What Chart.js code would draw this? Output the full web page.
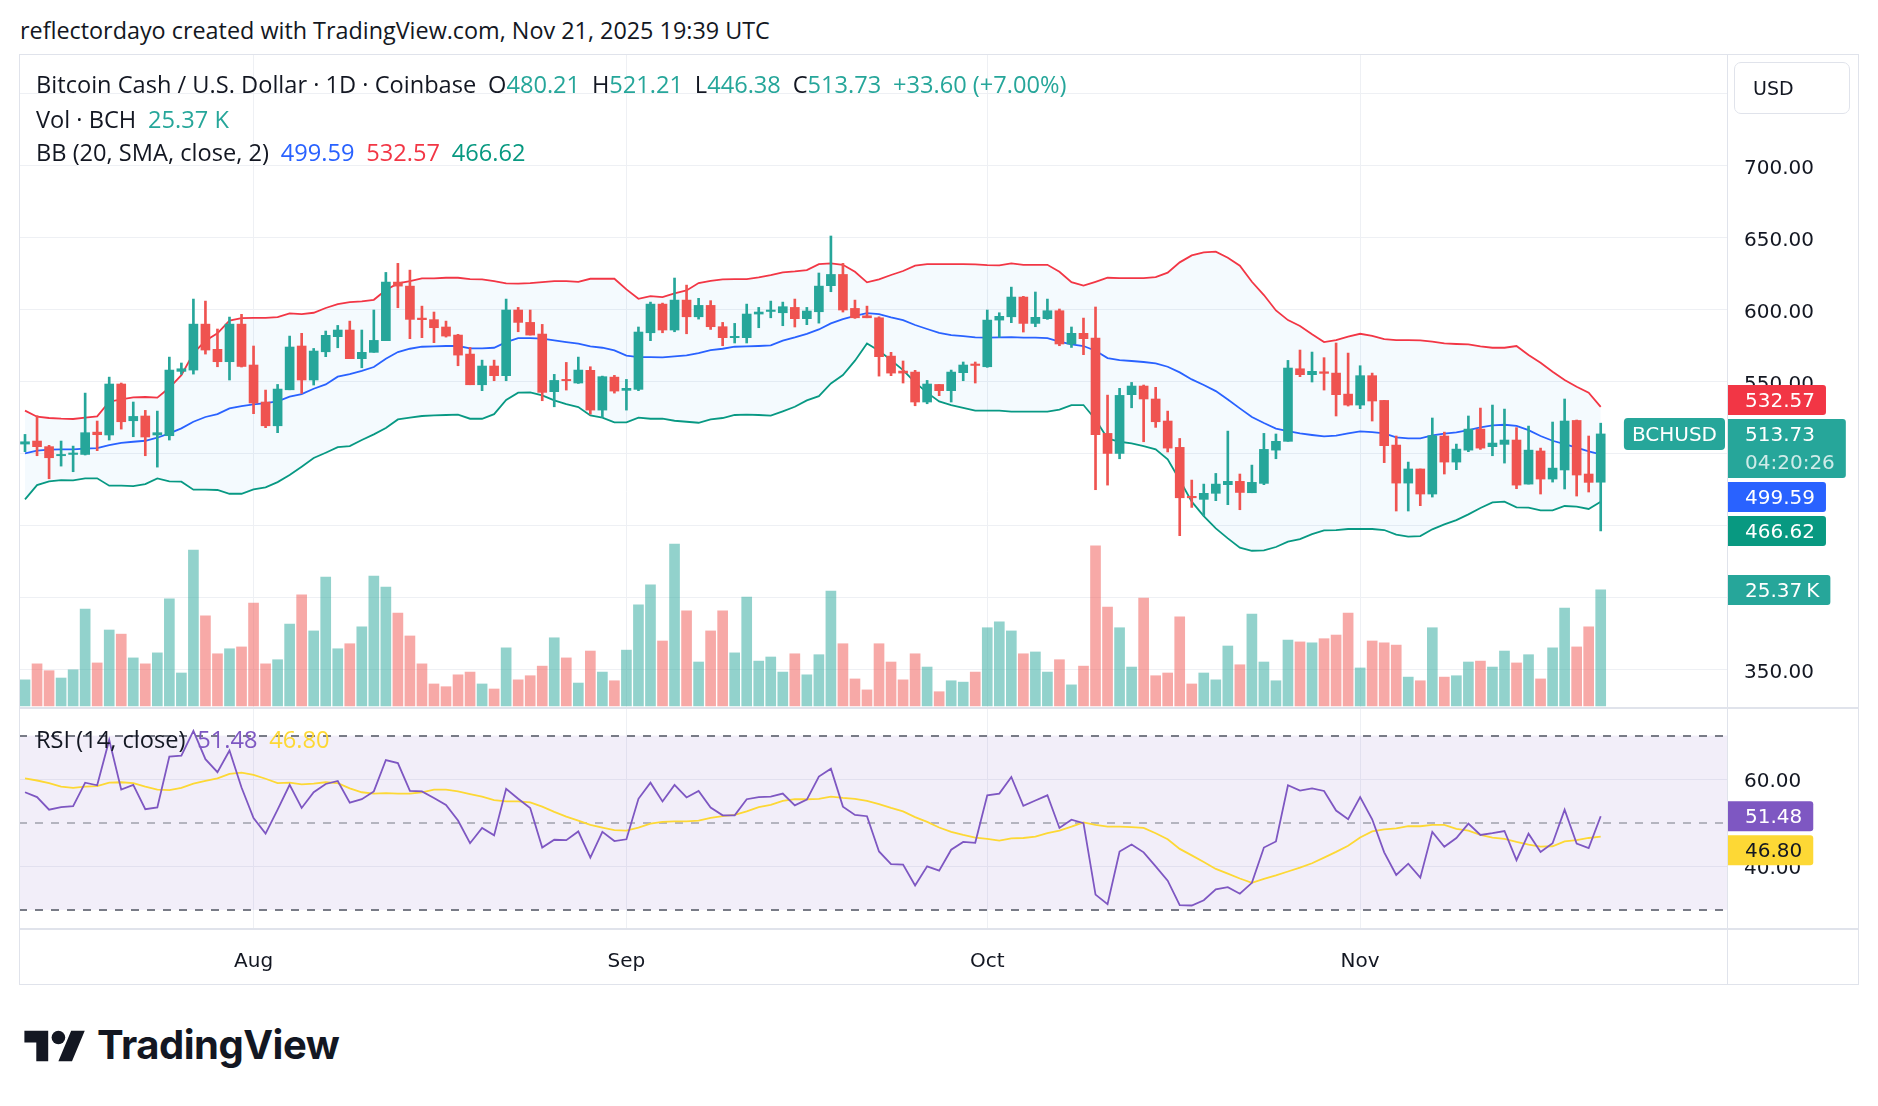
<!DOCTYPE html>
<html>
<head>
<meta charset="utf-8">
<script src="https://cdn.jsdelivr.net/npm/chart.js@4.4.1/dist/chart.umd.min.js"></script>
<style>
  html, body { margin: 0; padding: 0; background: #fff; width: 1878px; height: 1106px; overflow: hidden; }
  body { font-family: "Open Sans", Roboto, sans-serif; color: #131722; }
  .t { position: absolute; white-space: nowrap; line-height: 24px; }
  .it { margin-left: 0.5em; }
  .up { color: #26a69a; }
  #box { position: absolute; left: 19px; top: 54px; width: 1840px; height: 931px; }
  #usd { position: absolute; left: 1734px; top: 62px; width: 114px; height: 50px; border: 1px solid #e0e3eb; border-radius: 7px;
         font: 19px "DejaVu Sans"; line-height: 50px; text-indent: 18px; box-sizing: content-box; }
  #logo { position: absolute; left: 24px; top: 1029px; }
  #logoText { position: absolute; left: 97px; top: 1022px; font-family: Inter, "Open Sans", sans-serif; font-weight: 700; font-size: 38px; line-height: 46px; white-space: nowrap; letter-spacing: -0.5px; }
</style>
</head>
<body>
<div id="title" class="t" style="left:20px;top:17px;font-size:20px;line-height:26px">reflectordayo created with TradingView.com, Nov 21, 2025 19:39 UTC</div>

<div id="box"><canvas id="chart" width="1840" height="931"></canvas></div>

<div id="lg1" class="t" style="left:36px;top:72px;font-size:19px">Bitcoin Cash / U.S. Dollar · 1D · Coinbase<span class="it">O<span class="up">480.21</span></span><span class="it">H<span class="up">521.21</span></span><span class="it">L<span class="up">446.38</span></span><span class="it">C<span class="up">513.73</span></span><span class="it up">+33.60 (+7.00%)</span></div>
<div id="lg2" class="t" style="left:36px;top:107px;font-size:19px">Vol · BCH<span class="it up">25.37 K</span></div>
<div id="lg3" class="t" style="left:36px;top:140px;font-size:19px">BB (20, SMA, close, 2)<span class="it" style="color:#2962ff">499.59</span><span class="it" style="color:#f23645">532.57</span><span class="it" style="color:#089981">466.62</span></div>
<div id="lg4" class="t" style="left:36px;top:727px;font-size:19px">RSI (14, close)<span class="it" style="color:#7e57c2">51.48</span><span class="it" style="color:#fdd835">46.80</span></div>

<div id="usd">USD</div>

<svg id="logo" width="62" height="34" viewBox="0 3 36 20"><path fill="#131722" d="M14 22H7V11H0V4h14v18zM28 22h-8l7.5-18h8L28 22z"/><circle fill="#131722" cx="20" cy="8" r="4"/></svg>
<div id="logoText">TradingView</div>

<script>
// Daily candles, BCH/USD (Coinbase), 2025-07-13 .. 2025-11-21
const startDay = Date.UTC(2025, 6, 13);
const totalSlots = 142; // 132 candles + empty space on the right

const opens = [
  506.7, 508.8, 504.9, 498.6, 499.5, 499.5, 515.0, 513.0, 548.4, 522.9,
  526.2, 513.0, 512.5, 557.2, 558.1, 590.0, 572.5, 563.9, 590.0, 561.6,
  535.9, 519.4, 544.4, 574.8, 551.2, 570.8, 581.3, 585.9, 566.0, 570.4,
  578.5, 619.2, 616.4, 594.2, 593.1, 588.0, 582.4, 569.2, 547.9, 560.9,
  554.2, 599.8, 591.2, 583.1, 543.1, 551.6, 549.1, 557.9, 530.3, 553.2,
  544.0, 544.7, 584.0, 603.9, 585.9, 606.7, 595.1, 603.0, 588.2, 580.6,
  580.6, 597.0, 598.8, 597.9, 601.6, 593.8, 598.6, 616.7, 624.5, 600.9,
  595.8, 594.4, 567.8, 557.4, 556.7, 535.9, 548.1, 543.8, 556.3, 562.3,
  560.4, 592.8, 595.1, 608.8, 590.5, 593.8, 599.3, 576.2, 583.6, 580.3,
  514.1, 500.2, 541.0, 547.0, 538.0, 522.7, 504.4, 470.4, 468.3, 472.5,
  478.5, 480.8, 472.9, 479.4, 502.5, 508.6, 559.0, 554.9, 556.9, 556.0,
  541.4, 533.8, 554.2, 537.0, 506.0, 479.6, 489.4, 472.0, 512.3, 494.2,
  502.5, 517.1, 504.9, 506.5, 509.5, 478.9, 501.9, 482.4, 488.7, 523.1,
  485.9, 480.21
];
const highs = [
  513.4, 526.4, 505.8, 508.8, 505.3, 542.1, 522.7, 553.2, 549.1, 535.9,
  530.1, 529.6, 567.1, 563.0, 607.4, 606.0, 586.6, 594.9, 596.8, 574.8,
  544.2, 548.1, 581.7, 583.6, 573.1, 585.2, 589.1, 592.1, 585.9, 599.8,
  625.9, 632.2, 627.5, 602.5, 598.4, 592.1, 582.9, 573.8, 565.0, 565.0,
  607.4, 601.6, 599.8, 589.8, 555.1, 563.4, 567.1, 560.4, 553.9, 554.4,
  551.6, 588.0, 605.3, 604.6, 622.0, 617.1, 607.9, 606.3, 591.2, 590.5,
  603.9, 601.6, 606.0, 605.3, 607.4, 601.6, 625.5, 651.2, 632.2, 606.7,
  602.5, 595.1, 570.4, 564.4, 557.9, 550.9, 548.1, 558.1, 563.7, 563.7,
  599.8, 597.9, 615.7, 609.3, 612.3, 607.4, 600.5, 588.0, 594.2, 601.9,
  540.7, 545.4, 549.5, 547.7, 546.1, 529.6, 510.6, 481.7, 478.9, 486.3,
  515.7, 485.9, 492.1, 514.1, 513.7, 564.8, 572.0, 570.6, 566.7, 576.9,
  569.9, 561.1, 556.0, 537.0, 512.3, 494.2, 489.4, 524.8, 515.0, 506.7,
  526.2, 531.7, 533.8, 531.0, 518.1, 519.2, 503.9, 522.0, 538.0, 523.4,
  512.3, 521.21
];
const lows = [
  501.4, 498.6, 482.6, 491.4, 487.5, 499.1, 502.1, 509.5, 517.1, 511.8,
  498.6, 490.7, 509.5, 555.1, 555.3, 569.2, 560.4, 551.2, 560.2, 527.8,
  518.1, 514.6, 544.4, 541.9, 547.7, 567.4, 573.6, 566.0, 559.7, 570.4,
  578.5, 601.4, 579.9, 580.6, 577.1, 581.0, 561.1, 547.9, 543.8, 550.7,
  550.7, 584.7, 582.4, 536.8, 532.6, 544.2, 548.8, 527.5, 525.2, 542.1,
  530.3, 543.8, 578.5, 584.0, 584.7, 583.3, 593.5, 586.3, 575.0, 576.9,
  576.9, 587.5, 594.4, 588.9, 588.0, 589.6, 590.7, 612.5, 598.4, 594.0,
  594.4, 553.9, 554.2, 549.1, 533.3, 534.7, 540.3, 535.9, 550.7, 549.1,
  560.0, 580.8, 591.0, 584.5, 588.2, 593.3, 575.0, 573.8, 568.8, 475.0,
  478.2, 496.5, 531.9, 508.3, 518.3, 501.2, 443.1, 462.7, 456.9, 467.4,
  464.6, 461.1, 472.9, 478.5, 496.5, 508.6, 553.5, 549.8, 544.2, 526.2,
  533.1, 531.3, 522.7, 493.8, 460.2, 460.2, 463.9, 469.9, 485.9, 488.9,
  501.4, 503.0, 498.6, 493.5, 475.7, 478.9, 472.0, 480.3, 475.5, 470.6,
  473.4, 446.38
];
const closes = [
  508.3, 504.9, 497.2, 499.5, 500.5, 514.6, 513.2, 548.4, 522.2, 525.9,
  511.6, 514.6, 558.1, 559.0, 590.0, 572.0, 563.9, 590.0, 560.6, 535.2,
  519.4, 544.9, 574.1, 551.2, 571.3, 582.2, 585.9, 566.0, 570.4, 578.7,
  619.2, 616.4, 593.3, 593.1, 587.5, 581.7, 568.5, 547.9, 560.9, 554.2,
  599.8, 591.2, 582.4, 542.6, 550.9, 550.7, 558.1, 530.3, 553.5, 543.5,
  545.4, 584.5, 603.9, 585.9, 606.7, 595.1, 603.0, 588.2, 580.6, 581.5,
  597.0, 598.4, 599.8, 602.1, 593.8, 599.1, 616.4, 624.5, 599.8, 594.4,
  594.4, 567.4, 556.0, 556.0, 535.9, 548.4, 543.8, 556.7, 561.6, 561.3,
  592.8, 595.4, 608.8, 590.5, 594.7, 599.3, 576.2, 583.6, 579.9, 513.2,
  500.2, 540.5, 547.0, 538.0, 522.2, 503.9, 469.4, 469.4, 472.5, 478.9,
  480.8, 473.1, 480.1, 503.0, 508.6, 559.5, 554.9, 557.2, 555.8, 541.0,
  533.8, 554.2, 536.6, 505.6, 479.6, 489.4, 472.0, 512.5, 494.2, 503.2,
  517.1, 503.9, 507.4, 509.5, 478.2, 502.5, 482.4, 490.0, 522.7, 485.2,
  480.1, 513.73
];
// volume in thousands of BCH
const volumes = [
  5.7, 9.2, 7.7, 6.1, 7.9, 21.2, 9.4, 16.6, 15.7, 10.5,
  9.2, 11.6, 23.4, 7.2, 34.1, 19.7, 11.4, 12.5, 12.9, 22.5,
  9.2, 10.1, 17.9, 24.3, 16.4, 28.2, 12.5, 13.6, 17.3, 28.4,
  26.0, 20.3, 15.3, 9.2, 4.8, 4.2, 6.8, 7.4, 4.8, 3.7,
  12.7, 5.7, 6.6, 8.7, 14.9, 10.5, 5.0, 12.0, 7.4, 5.5,
  12.2, 22.1, 26.5, 14.2, 35.4, 20.8, 9.6, 16.4, 20.8, 11.6,
  23.8, 9.8, 10.7, 7.4, 11.4, 6.8, 11.2, 25.1, 13.6, 5.9,
  3.5, 13.6, 9.6, 5.7, 11.4, 8.5, 3.1, 5.5, 5.2, 7.4,
  17.1, 18.4, 16.4, 11.4, 11.8, 7.4, 10.1, 4.6, 8.7, 35.0,
  21.6, 17.1, 8.5, 23.6, 6.6, 7.2, 19.5, 4.8, 7.2, 5.7,
  13.1, 9.0, 20.1, 9.6, 5.5, 14.4, 14.0, 13.8, 14.7, 15.5,
  20.3, 8.3, 14.2, 13.8, 13.3, 6.3, 5.5, 17.1, 6.3, 6.6,
  9.6, 9.8, 8.5, 12.0, 9.4, 11.2, 5.9, 12.7, 21.4, 12.9,
  17.3, 25.37
];
const bbUpper = [
  529.9, 525.7, 524.8, 524.3, 524.1, 525.0, 525.9, 536.1, 537.7, 539.1,
  539.4, 538.9, 545.8, 554.6, 569.7, 578.5, 583.6, 592.4, 594.2, 594.4,
  594.4, 594.9, 597.5, 597.0, 597.9, 601.2, 603.9, 605.3, 605.8, 606.9,
  613.7, 618.3, 619.9, 621.8, 621.8, 622.2, 622.2, 621.3, 621.1, 619.9,
  618.3, 618.1, 618.5, 619.2, 619.9, 619.9, 619.4, 621.5, 621.5, 621.5,
  614.1, 607.6, 609.5, 608.8, 611.3, 613.4, 618.5, 620.1, 621.1, 621.3,
  621.3, 622.5, 624.1, 625.9, 626.6, 627.5, 631.7, 632.2, 631.2, 626.4,
  619.0, 621.1, 624.1, 626.9, 630.6, 631.7, 631.7, 631.7, 631.7, 631.5,
  631.0, 630.8, 632.2, 631.2, 631.2, 631.2, 626.4, 619.2, 616.7, 619.4,
  622.2, 622.0, 622.0, 622.0, 622.7, 625.7, 632.9, 637.7, 639.8, 640.3,
  636.1, 630.6, 619.4, 610.2, 599.5, 592.8, 588.7, 582.9, 577.5, 578.9,
  581.3, 583.3, 581.9, 579.6, 578.9, 578.9, 578.7, 577.8, 576.6, 576.2,
  575.9, 574.5, 573.6, 573.6, 574.8, 568.5, 563.2, 556.9, 551.2, 546.5,
  542.4, 532.57
];
const bbBasis = [
  500.2, 502.1, 502.8, 503.0, 503.0, 503.5, 503.9, 506.0, 507.6, 508.3,
  509.0, 511.1, 514.1, 517.6, 522.2, 525.5, 527.5, 531.5, 533.1, 534.3,
  535.2, 536.3, 539.6, 541.4, 545.1, 548.1, 553.5, 555.3, 557.6, 560.2,
  566.0, 570.6, 572.9, 574.3, 574.5, 574.8, 574.8, 573.1, 573.1, 573.6,
  577.5, 580.3, 580.3, 579.9, 578.7, 577.5, 576.4, 574.5, 573.6, 571.8,
  568.1, 567.1, 567.1, 566.9, 567.6, 568.3, 569.9, 572.0, 572.9, 574.3,
  574.5, 574.8, 575.2, 578.5, 580.8, 583.3, 586.3, 590.5, 593.5, 595.8,
  597.7, 597.0, 594.7, 592.8, 589.4, 586.6, 584.0, 582.4, 581.7, 580.8,
  580.6, 580.8, 581.0, 580.6, 580.6, 580.3, 577.8, 575.9, 574.8, 571.5,
  566.4, 565.0, 564.4, 563.7, 562.7, 560.4, 556.5, 551.6, 547.7, 543.5,
  537.7, 531.5, 525.5, 521.3, 517.4, 515.7, 514.1, 513.0, 512.0, 512.5,
  514.1, 515.5, 515.0, 514.1, 511.3, 510.6, 510.6, 512.7, 513.9, 514.8,
  516.4, 518.3, 519.7, 520.1, 519.4, 516.4, 512.3, 509.0, 506.7, 504.2,
  501.6, 499.59
];
const bbLower = [
  468.3, 478.2, 480.8, 481.7, 481.5, 482.9, 482.9, 477.8, 477.8, 477.5,
  478.9, 482.9, 480.8, 480.6, 475.0, 475.0, 474.8, 472.2, 472.2, 475.2,
  476.6, 480.3, 485.2, 491.0, 497.0, 500.7, 504.6, 505.3, 509.5, 513.4,
  517.8, 523.8, 525.0, 526.2, 526.6, 526.9, 527.1, 524.3, 524.3, 527.5,
  537.3, 542.4, 542.6, 540.5, 537.0, 534.5, 532.4, 526.6, 525.0, 521.8,
  521.8, 525.0, 524.3, 524.3, 522.9, 522.2, 521.5, 523.8, 524.8, 526.9,
  527.1, 526.9, 526.4, 529.4, 532.6, 537.0, 540.0, 548.8, 554.6, 564.6,
  576.6, 571.5, 565.0, 558.1, 549.5, 542.4, 536.3, 533.8, 531.9, 529.9,
  529.9, 529.9, 529.2, 529.2, 529.2, 529.2, 530.6, 533.8, 533.8, 523.8,
  510.6, 508.3, 507.2, 505.3, 503.0, 496.1, 481.7, 466.7, 456.7, 448.1,
  441.2, 434.7, 432.6, 432.9, 435.2, 438.9, 440.7, 444.2, 446.8, 447.0,
  447.7, 447.7, 447.7, 447.0, 443.8, 442.4, 442.8, 447.5, 450.9, 453.9,
  457.9, 462.3, 466.2, 466.7, 462.7, 462.5, 460.6, 460.6, 463.7, 463.2,
  461.6, 466.62
];
const rsi = [
  57.0, 55.9, 53.0, 53.6, 53.8, 59.2, 58.6, 69.0, 57.6, 58.7,
  53.1, 53.5, 65.2, 65.4, 71.1, 64.6, 61.6, 66.6, 58.1, 51.1,
  47.5, 53.0, 58.7, 53.4, 57.0, 58.9, 59.6, 54.6, 55.4, 57.2,
  64.4, 63.7, 57.3, 57.2, 55.7, 54.1, 50.5, 45.3, 48.8, 47.1,
  57.8, 55.5, 53.4, 44.3, 46.1, 46.0, 48.0, 42.0, 47.9, 45.8,
  46.2, 55.5, 59.2, 54.9, 58.7, 55.8, 57.3, 53.5, 51.7, 51.7,
  55.4, 55.9, 56.0, 56.7, 54.0, 55.3, 60.6, 62.4, 53.7, 51.8,
  51.5, 43.4, 40.5, 40.4, 35.6, 40.0, 39.0, 43.8, 45.6, 45.4,
  56.3, 56.7, 60.5, 53.9, 55.1, 56.3, 48.8, 50.7, 49.9, 33.5,
  31.3, 43.4, 45.0, 43.2, 40.0, 36.7, 31.1, 31.0, 32.2, 34.7,
  35.2, 33.7, 36.2, 44.3, 45.7, 58.6, 57.4, 57.9, 57.3, 52.8,
  50.8, 55.9, 50.8, 43.2, 38.0, 40.6, 37.4, 47.9, 44.5, 46.5,
  49.8, 47.2, 47.6, 48.1, 41.4, 47.5, 43.3, 45.3, 53.0, 45.2,
  44.2, 51.48
];
const rsiMa = [
  60.2, 59.7, 59.1, 58.3, 58.0, 58.3, 58.4, 59.2, 59.3, 59.1,
  58.3, 57.6, 57.5, 58.0, 59.0, 59.6, 60.2, 61.2, 61.5, 61.0,
  60.1, 59.1, 59.2, 58.8, 59.0, 59.3, 59.1, 57.9, 57.0, 56.7,
  56.8, 56.7, 56.7, 57.0, 57.6, 57.6, 57.2, 56.6, 56.0, 55.2,
  54.9, 54.9, 54.7, 53.7, 52.5, 51.4, 50.5, 49.5, 48.9, 48.3,
  48.2, 48.9, 49.8, 50.2, 50.3, 50.3, 50.5, 51.1, 51.5, 51.8,
  52.6, 53.6, 54.1, 55.0, 55.4, 55.4, 55.5, 56.0, 55.7, 55.5,
  55.0, 54.3, 53.4, 52.6, 51.3, 50.2, 48.9, 47.9, 47.2, 46.6,
  46.3, 45.9, 46.4, 46.5, 46.8, 47.6, 48.2, 49.1, 50.1, 49.5,
  49.1, 49.1, 49.0, 48.8, 47.6, 46.2, 44.0, 42.5, 41.0, 39.4,
  38.3, 37.2, 36.2, 37.1, 37.9, 38.8, 39.7, 40.7, 42.0, 43.3,
  44.7, 46.6, 48.0, 48.5, 48.7, 49.2, 49.2, 49.5, 49.5, 48.6,
  48.2, 47.2, 46.6, 46.3, 45.6, 45.0, 44.5, 44.6, 45.7, 46.0,
  46.5, 46.80
];
const rsiLevels = [70, 50, 30];
const priceTickLabels = [350, 550, 600, 650, 700];
const monthTicks = ['2025-08-01', '2025-09-01', '2025-10-01', '2025-11-01'];
const monthTickText = ['Aug', 'Sep', 'Oct', 'Nov'];
const countdownText = '04:20:26';
const symbolText = 'BCHUSD';

// colours
const UP = '#26a69a', DOWN = '#ef5350';
const UP_VOL = 'rgba(38,166,154,0.5)', DOWN_VOL = 'rgba(239,83,80,0.5)';
const GRID = '#eef0f4', FRAME = '#e0e3eb';
const AXIS_FONT = { family: 'DejaVu Sans', size: 20 };

// category labels (one slot per day)
const dayLabels = [];
for (let i = 0; i < totalSlots; i++) {
  dayLabels.push(new Date(startDay + i * 86400000).toISOString().slice(0, 10));
}

const isUp = closes.map((c, i) => c >= opens[i]);
const candleColors = isUp.map(u => u ? UP : DOWN);
const volColors = isUp.map(u => u ? UP_VOL : DOWN_VOL);
const wicks = highs.map((h, i) => [lows[i], h]);
const bodies = opens.map((o, i) => [o, closes[i]]);
const last = closes.length - 1;

// price-scale tags (stacked like TradingView so they never overlap)
function placeTags(tags, scale) {
  tags.forEach(t => { t.h = t.sub ? 59 : 30; t.top = scale.getPixelForValue(t.value) - 15; });
  tags.sort((p, q) => p.top - q.top);
  let m = tags.findIndex(t => t.main);
  if (m < 0) m = 0;
  for (let i = m - 1; i >= 0; i--) tags[i].top = Math.min(tags[i].top, tags[i + 1].top - 4 - tags[i].h);
  for (let i = m + 1; i < tags.length; i++) tags[i].top = Math.max(tags[i].top, tags[i - 1].top + tags[i - 1].h + 4);
  return tags;
}

function drawTag(ctx, x, t) {
  ctx.font = '20px "DejaVu Sans"';
  const tw = Math.max(ctx.measureText(t.text).width, t.sub ? ctx.measureText(t.sub).width : 0);
  ctx.fillStyle = t.color;
  ctx.beginPath();
  ctx.roundRect(x, t.top, 17 + tw + 11, t.h, [0, 3, 3, 0]);
  ctx.fill();
  ctx.textAlign = 'left';
  ctx.textBaseline = 'middle';
  ctx.fillStyle = t.ink || '#fff';
  ctx.fillText(t.text, x + 17, t.top + 16.5);
  if (t.sub) {
    ctx.fillStyle = 'rgba(255,255,255,0.78)';
    ctx.fillText(t.sub, x + 17, t.top + 45);
  }
}

const tvDecor = {
  id: 'tvDecor',
  beforeDatasetsDraw(chart) {
    const { ctx, chartArea: a, scales: { yr } } = chart;
    const yTop = yr.getPixelForValue(rsiLevels[0]);
    const yMid = yr.getPixelForValue(rsiLevels[1]);
    const yBot = yr.getPixelForValue(rsiLevels[2]);
    ctx.save();
    ctx.fillStyle = 'rgba(126,87,194,0.1)';
    ctx.fillRect(a.left, yTop, a.right - a.left, yBot - yTop);
    ctx.lineWidth = 2;
    ctx.setLineDash([8, 8]);
    ctx.strokeStyle = '#787b86';
    [yTop, yBot].forEach(y => {
      ctx.beginPath(); ctx.moveTo(a.left, Math.round(y)); ctx.lineTo(a.right, Math.round(y)); ctx.stroke();
    });
    ctx.strokeStyle = 'rgba(120,123,134,0.5)';
    ctx.beginPath(); ctx.moveTo(a.left, Math.round(yMid)); ctx.lineTo(a.right, Math.round(yMid)); ctx.stroke();
    ctx.restore();
  },
  afterDraw(chart) {
    const { ctx, chartArea: a, scales } = chart;
    const W = chart.width, H = chart.height;
    ctx.save();
    // frame and pane separators
    ctx.strokeStyle = FRAME;
    ctx.lineWidth = 1;
    ctx.strokeRect(0.5, 0.5, W - 1, H - 1);
    ctx.beginPath(); ctx.moveTo(a.right + 0.5, 0); ctx.lineTo(a.right + 0.5, H); ctx.stroke();
    ctx.lineWidth = 2;
    [scales.y.bottom, a.bottom].forEach(y => {
      ctx.beginPath(); ctx.moveTo(0, y); ctx.lineTo(W, y); ctx.stroke();
    });

    // symbol tag left of the price scale
    ctx.font = '20px "DejaVu Sans"';
    const yc = scales.y.getPixelForValue(closes[last]);
    const sw = ctx.measureText(symbolText).width + 16;
    ctx.fillStyle = UP;
    ctx.beginPath();
    ctx.roundRect(a.right - 2 - sw, yc - 16, sw, 32, 4);
    ctx.fill();
    ctx.fillStyle = '#fff';
    ctx.textAlign = 'center';
    ctx.textBaseline = 'middle';
    ctx.fillText(symbolText, a.right - 2 - sw / 2, yc + 1.5);

    const x0 = a.right + 1;
    placeTags([
      { value: bbUpper[last], text: bbUpper[last].toFixed(2), color: '#f23645' },
      { value: closes[last], text: closes[last].toFixed(2), sub: countdownText, color: UP, main: true },
      { value: bbBasis[last], text: bbBasis[last].toFixed(2), color: '#2962ff' },
      { value: bbLower[last], text: bbLower[last].toFixed(2), color: '#089981' }
    ], scales.y).forEach(t => drawTag(ctx, x0, t));

    placeTags([
      { value: volumes[last], text: volumes[last].toFixed(2) + '\u2009K', color: UP, main: true }
    ], scales.yv).forEach(t => drawTag(ctx, x0, t));

    placeTags([
      { value: rsi[last], text: rsi[last].toFixed(2), color: '#7e57c2', main: true },
      { value: rsiMa[last], text: rsiMa[last].toFixed(2), color: '#fdd835', ink: '#131722' }
    ], scales.yr).forEach(t => drawTag(ctx, x0, t));
    ctx.restore();
  }
};

const lineDefaults = { type: 'line', pointRadius: 0, borderWidth: 1.8, tension: 0, fill: false };

new Chart(document.getElementById('chart'), {
  type: 'bar',
  data: {
    labels: dayLabels,
    datasets: [
      { type: 'bar', label: 'Volume', data: volumes, yAxisID: 'yv', backgroundColor: volColors,
        barThickness: 10, grouped: false, borderWidth: 0, order: 10 },
      { ...lineDefaults, label: 'BB upper', data: bbUpper, yAxisID: 'y', borderColor: '#f23645',
        fill: '+1', backgroundColor: 'rgba(33,150,243,0.05)', order: 6 },
      { ...lineDefaults, label: 'BB lower', data: bbLower, yAxisID: 'y', borderColor: '#089981', order: 6 },
      { ...lineDefaults, label: 'BB basis', data: bbBasis, yAxisID: 'y', borderColor: '#2962ff', order: 5 },
      { type: 'bar', label: 'Wick', data: wicks, yAxisID: 'y', backgroundColor: candleColors,
        barThickness: 2, grouped: false, borderWidth: 0, order: 2 },
      { type: 'bar', label: 'Body', data: bodies, yAxisID: 'y', backgroundColor: candleColors,
        barThickness: 9, grouped: false, borderWidth: 0, order: 1 },
      { ...lineDefaults, label: 'RSI', data: rsi, yAxisID: 'yr', borderColor: '#7e57c2', order: 3 },
      { ...lineDefaults, label: 'RSI MA', data: rsiMa, yAxisID: 'yr', borderColor: '#fdd835', order: 4 }
    ]
  },
  options: {
    responsive: false,
    animation: false,
    devicePixelRatio: 1,
    layout: { padding: 0 },
    plugins: { legend: { display: false }, tooltip: { enabled: false } },
    scales: {
      x: {
        type: 'category',
        offset: true,
        border: { display: false },
        grid: {
          offset: false,
          drawTicks: false,
          color: ctx => monthTicks.includes(dayLabels[ctx.index]) ? GRID : 'transparent'
        },
        ticks: {
          autoSkip: false, maxRotation: 0, minRotation: 0, padding: 21,
          color: '#131722', font: AXIS_FONT,
          callback: (v, i) => {
            const k = monthTicks.indexOf(dayLabels[i]);
            return k < 0 ? '' : monthTickText[k];
          }
        },
        afterFit: s => { s.height = 56; s.paddingLeft = 0; s.paddingRight = 0; }
      },
      y: {
        type: 'linear', position: 'right', stack: 'panes', stackWeight: 654,
        min: 323.4, max: 777.6,
        border: { display: false },
        grid: { color: GRID, drawTicks: false },
        ticks: {
          stepSize: 50, includeBounds: false, padding: 17, labelOffset: 3, color: '#131722', font: AXIS_FONT,
          callback: v => priceTickLabels.includes(v) ? v.toFixed(2) : ''
        },
        afterFit: s => { s.width = 132; s.paddingTop = 0; s.paddingBottom = 0; }
      },
      yr: {
        type: 'linear', position: 'right', stack: 'panes', stackWeight: 221,
        min: 25.6, max: 76.35,
        border: { display: false },
        grid: { color: GRID, drawTicks: false },
        ticks: {
          stepSize: 20, includeBounds: false, padding: 17, labelOffset: 3, color: '#131722', font: AXIS_FONT,
          callback: v => v.toFixed(2)
        },
        afterFit: s => { s.width = 132; s.paddingTop = 0; s.paddingBottom = 0; }
      },
      yv: { type: 'linear', display: false, min: -48.8, max: 142.6 }
    }
  },
  plugins: [tvDecor]
});

// size the header texts to the widths they have in the snapshot
function fitTo(id, target) {
  const el = document.getElementById(id);
  const fs = parseFloat(getComputedStyle(el).fontSize);
  return fs * target / el.getBoundingClientRect().width;
}
const legendSize = fitTo('lg1', 1031);
['lg1', 'lg2', 'lg3', 'lg4'].forEach(id => document.getElementById(id).style.fontSize = legendSize + 'px');
document.getElementById('title').style.fontSize = fitTo('title', 750) + 'px';
document.getElementById('logoText').style.fontSize = fitTo('logoText', 242) + 'px';
</script>
</body>
</html>
